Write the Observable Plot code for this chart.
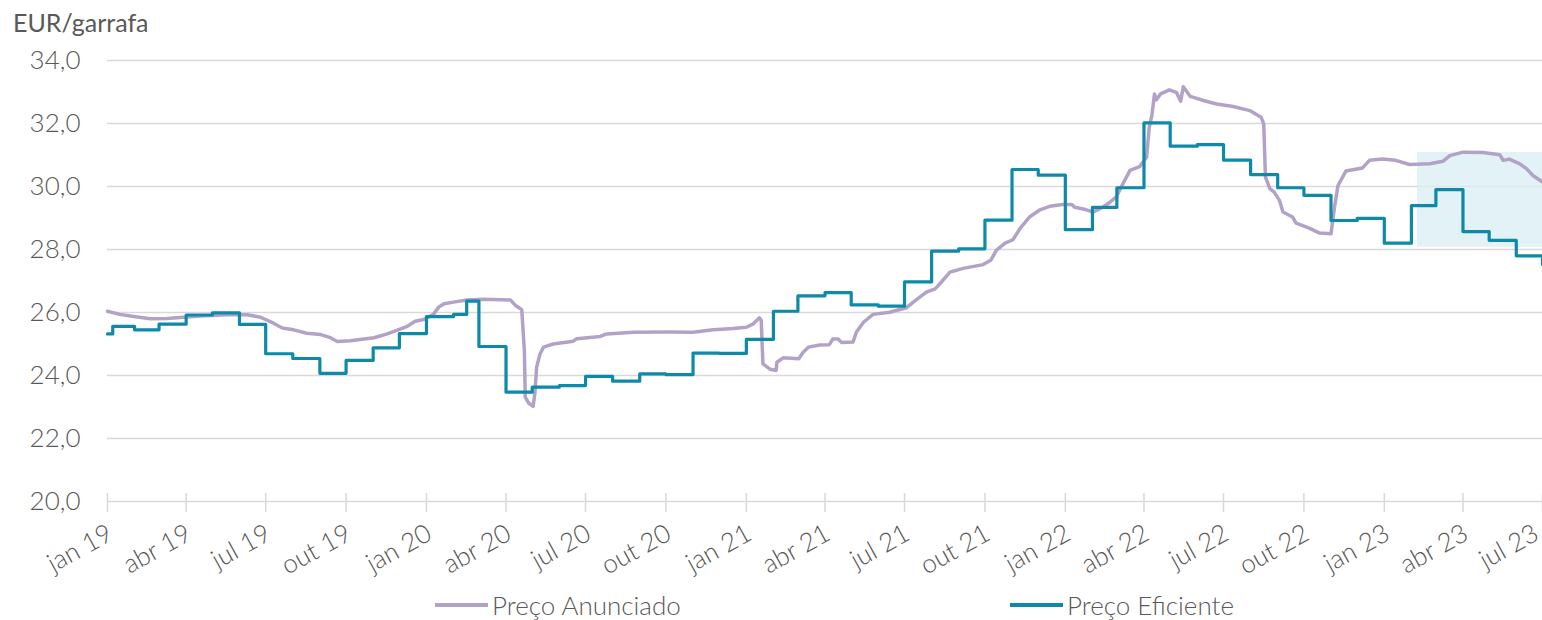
<!DOCTYPE html>
<html><head><meta charset="utf-8">
<script src="https://cdn.jsdelivr.net/npm/d3@7"></script>
<script src="https://cdn.jsdelivr.net/npm/@observablehq/plot@0.6"></script>
<style>
body{margin:0;background:#fff;font-family:Lato,"Open Sans",sans-serif;color:#595959;font-weight:300}
#wrap{position:relative;width:1542px;height:620px;overflow:hidden;background:#fff}
#title{position:absolute;left:13px;top:2px;font-size:25px;line-height:40px;font-weight:400}
.leg{position:absolute;top:591px;font-size:26px;line-height:28px;display:flex;align-items:center;white-space:nowrap}
.leg .sw{display:inline-block;width:53px;height:4px;margin-right:4px}
#chart{position:absolute;left:0;top:0}
</style></head>
<body><div id="wrap"><div id="chart"></div><div id="title">EUR/garrafa</div>
<div class="leg" style="left:435px"><span class="sw" style="background:#B3A2C7"></span>Preço Anunciado</div>
<div class="leg" style="left:1010px"><span class="sw" style="background:#0E8AA8"></span>Preço Eficiente</div>
</div>
<script>
// Preço Anunciado (EUR/garrafa)
const anunciadoDates = ["2019-01-01","2019-01-15","2019-01-31","2019-02-19","2019-03-10","2019-03-29","2019-04-17","2019-05-06","2019-05-25","2019-06-10","2019-06-25","2019-07-10","2019-07-20","2019-08-02","2019-08-17","2019-09-02","2019-09-13","2019-09-21","2019-10-06","2019-10-17","2019-11-02","2019-11-17","2019-11-28","2019-12-10","2019-12-19","2019-12-29","2020-01-09","2020-01-15","2020-01-21","2020-02-01","2020-02-16","2020-03-06","2020-04-06","2020-04-12","2020-04-19","2020-04-22","2020-04-23","2020-04-27","2020-05-02","2020-05-04","2020-05-06","2020-05-10","2020-05-14","2020-05-25","2020-06-17","2020-06-21","2020-07-18","2020-07-25","2020-08-25","2020-10-02","2020-11-01","2020-11-24","2020-12-17","2021-01-01","2021-01-09","2021-01-16","2021-01-18","2021-01-20","2021-01-28","2021-02-04","2021-02-05","2021-02-12","2021-03-02","2021-03-07","2021-03-13","2021-03-26","2021-04-06","2021-04-10","2021-04-16","2021-04-20","2021-05-03","2021-05-07","2021-05-15","2021-05-26","2021-06-14","2021-07-03","2021-07-11","2021-07-26","2021-08-05","2021-08-12","2021-08-22","2021-09-06","2021-09-29","2021-10-08","2021-10-14","2021-10-24","2021-11-02","2021-11-10","2021-11-21","2021-12-03","2021-12-14","2021-12-29","2022-01-08","2022-01-12","2022-01-25","2022-02-02","2022-02-13","2022-02-21","2022-02-28","2022-03-08","2022-03-16","2022-03-27","2022-04-04","2022-04-07","2022-04-10","2022-04-13","2022-04-15","2022-04-20","2022-04-30","2022-05-08","2022-05-13","2022-05-16","2022-05-24","2022-06-08","2022-06-23","2022-07-12","2022-07-31","2022-08-13","2022-08-16","2022-08-18","2022-08-23","2022-08-28","2022-09-03","2022-09-07","2022-09-18","2022-09-22","2022-10-07","2022-10-19","2022-11-01","2022-11-05","2022-11-09","2022-11-18","2022-12-07","2022-12-15","2022-12-30","2023-01-14","2023-01-30","2023-02-22","2023-03-09","2023-03-17","2023-04-01","2023-04-24","2023-05-13","2023-05-17","2023-05-24","2023-06-05","2023-06-13","2023-06-20","2023-07-01"];
const anunciadoValues = [26.04,25.94,25.87,25.80,25.81,25.85,25.89,25.91,25.94,25.93,25.85,25.66,25.51,25.45,25.34,25.30,25.20,25.08,25.10,25.14,25.20,25.32,25.43,25.56,25.72,25.78,25.94,26.17,26.28,26.33,26.40,26.42,26.40,26.22,26.09,24.79,23.31,23.12,23.02,23.42,24.26,24.69,24.90,25.00,25.09,25.17,25.24,25.32,25.37,25.38,25.37,25.45,25.49,25.53,25.64,25.83,25.75,24.37,24.20,24.16,24.42,24.56,24.53,24.74,24.90,24.97,24.98,25.16,25.16,25.05,25.06,25.38,25.69,25.94,26.01,26.15,26.33,26.65,26.75,26.96,27.28,27.40,27.52,27.67,27.97,28.20,28.31,28.66,29.03,29.26,29.37,29.43,29.43,29.34,29.26,29.19,29.34,29.50,29.66,30.09,30.51,30.63,30.93,31.88,32.25,32.94,32.75,32.94,33.07,32.99,32.71,33.17,32.86,32.73,32.62,32.54,32.41,32.20,31.99,30.30,29.93,29.82,29.56,29.19,29.03,28.84,28.68,28.52,28.50,29.34,30.03,30.49,30.59,30.83,30.87,30.83,30.70,30.72,30.80,30.98,31.09,31.08,31.01,30.83,30.87,30.72,30.56,30.35,30.14];

// Preço Eficiente (EUR/garrafa), value valid from each date on
const eficienteDates = ["2019-01-01","2019-01-07","2019-02-01","2019-03-01","2019-04-01","2019-05-01","2019-06-01","2019-07-01","2019-08-01","2019-09-01","2019-10-01","2019-11-01","2019-12-01","2020-01-01","2020-02-01","2020-02-16","2020-03-01","2020-04-01","2020-05-01","2020-06-01","2020-07-01","2020-08-01","2020-09-01","2020-10-01","2020-11-01","2020-12-01","2021-01-01","2021-02-01","2021-03-01","2021-04-01","2021-05-01","2021-06-01","2021-07-01","2021-08-01","2021-09-01","2021-10-01","2021-11-01","2021-12-01","2022-01-01","2022-02-01","2022-03-01","2022-04-01","2022-05-01","2022-06-01","2022-07-01","2022-08-01","2022-09-01","2022-10-01","2022-11-01","2022-12-01","2023-01-01","2023-02-01","2023-03-01","2023-04-01","2023-05-01","2023-06-01","2023-07-01"];
const eficienteValues = [25.32,25.56,25.45,25.63,25.92,25.99,25.62,24.69,24.54,24.07,24.48,24.88,25.33,25.87,25.94,26.36,24.92,23.47,23.63,23.68,23.97,23.82,24.05,24.03,24.71,24.70,25.15,26.04,26.53,26.63,26.24,26.20,26.97,27.95,28.02,28.93,30.54,30.36,28.63,29.34,29.96,32.02,31.28,31.33,30.84,30.38,29.96,29.72,28.92,28.99,28.20,29.39,29.90,28.57,28.29,27.80,27.52];

// Axis ticks
const yTicks = [20, 22, 24, 26, 28, 30, 32, 34];
const xTickDates = ["2019-01-01","2019-04-01","2019-07-01","2019-10-01","2020-01-01","2020-04-01","2020-07-01","2020-10-01","2021-01-01","2021-04-01","2021-07-01","2021-10-01","2022-01-01","2022-04-01","2022-07-01","2022-10-01","2023-01-01","2023-04-01","2023-07-01"];
const xTickLabels = ["jan 19","abr 19","jul 19","out 19","jan 20","abr 20","jul 20","out 20","jan 21","abr 21","jul 21","out 21","jan 22","abr 22","jul 22","out 22","jan 23","abr 23","jul 23"];

// Highlighted period
const shadeStart = "2023-02-08", shadeEnd = "2023-07-01", shadeLow = 28.07, shadeHigh = 31.08;

const anunciado = anunciadoDates.map((d, i) => ({date: new Date(d), value: anunciadoValues[i]}));
const eficiente = eficienteDates.map((d, i) => ({date: new Date(d), value: eficienteValues[i]}));
const tickDates = xTickDates.map(d => new Date(d));
const labelMap = new Map(tickDates.map((d, i) => [+d, xTickLabels[i]]));
const shade = [{x1: new Date(shadeStart), x2: new Date(shadeEnd), y1: shadeLow, y2: shadeHigh}];
const axisCommon = {tickSize: 0, tickPadding: 30, tickRotate: -29, tickFormat: d => labelMap.get(+d), label: null};

const chart = Plot.plot({
  width: 1542, height: 620,
  marginTop: 60, marginBottom: 119, marginLeft: 107, marginRight: 0,
  x: {type: "utc", domain: [tickDates[0], tickDates[tickDates.length - 1]]},
  y: {domain: [20, 34]},
  style: {fontFamily: "Lato, 'Open Sans', sans-serif", fontSize: "26px", fontWeight: 300, color: "#595959", background: "transparent", overflow: "visible"},
  marks: [
    Plot.gridY(yTicks, {stroke: "#d9d9d9", strokeOpacity: 1, strokeWidth: 1.5}),
    Plot.rect(shade, {x1: "x1", x2: "x2", y1: "y1", y2: "y2", fill: "#DAEEF3", fillOpacity: 0.75}),
    Plot.ruleX(tickDates, {x: d => d, y1: 20, y2: 20, insetTop: -8, insetBottom: -11, stroke: "#d9d9d9", strokeWidth: 1.5}),
    Plot.axisY({ticks: yTicks, tickSize: 0, tickPadding: 27, tickFormat: d => d.toFixed(1).replace(".", ",")}),
    Plot.axisX({...axisCommon, ticks: tickDates.slice(0, -1), dx: 3}),
    Plot.axisX({...axisCommon, ticks: tickDates.slice(-1), dx: -6}),
    Plot.line(anunciado, {x: "date", y: "value", stroke: "#B3A2C7", strokeWidth: 3.5, strokeLinejoin: "round"}),
    Plot.line(eficiente, {x: "date", y: "value", stroke: "#0E8AA8", strokeWidth: 3.2, curve: "step-after"})
  ]
});
document.getElementById("chart").appendChild(chart);
</script>
</body></html>
